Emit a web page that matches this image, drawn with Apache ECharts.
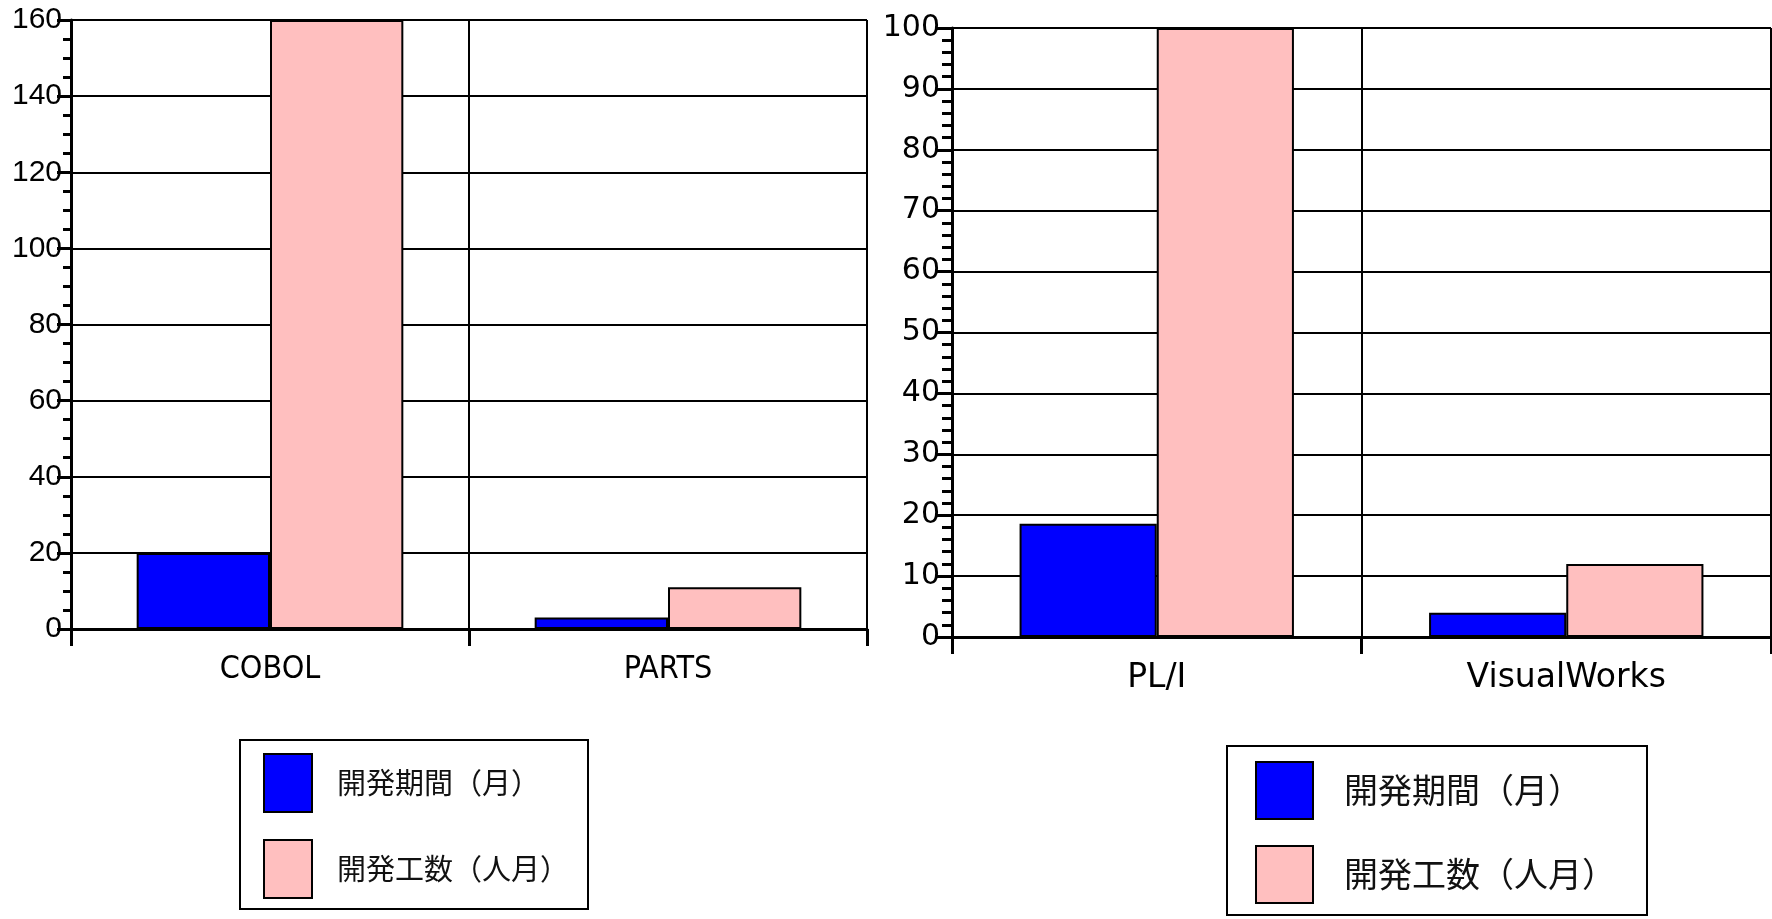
<!DOCTYPE html>
<html>
<head>
<meta charset="utf-8">
<script src="https://cdn.jsdelivr.net/npm/echarts@6/dist/echarts.min.js"></script>
<style>
html,body{margin:0;padding:0;background:#fff;}
#c{width:1772px;height:919px;}
</style>
</head>
<body>
<div id="c"></div>
<script>
// Left chart data
const leftCategories = ['COBOL', 'PARTS'];
const leftPeriod = [20, 3];      // 開発期間（月）
const leftEffort = [160, 11];    // 開発工数（人月）
const leftTicks = { min: 0, max: 160, interval: 20 };

// Right chart data
const rightCategories = ['PL/I', 'VisualWorks'];
const rightPeriod = [18.6, 4];
const rightEffort = [100, 12];
const rightTicks = { min: 0, max: 100, interval: 10 };

const seriesNames = ['開発期間（月）', '開発工数（人月）'];
const colors = ['#0000FF', '#FFBFBF'];

const chart = echarts.init(document.getElementById('c'), null, { renderer: 'canvas' });

const black = '#000';
const splitStyle = { show: true, lineStyle: { color: black, width: 2 } };

function xAxis(gridIndex, cats, fontFamily, fontSize, margin) {
  return {
    type: 'category', gridIndex, data: cats,
    axisLine: { show: true, lineStyle: { color: black, width: 3 } },
    axisTick: { show: true, length: 17, interval: 0, lineStyle: { color: black, width: 3 } },
    splitLine: { show: true, interval: 0, lineStyle: { color: black, width: 2 } },
    axisLabel: { color: black, fontFamily, fontSize, margin, interval: 0 }
  };
}
function yAxis(gridIndex, t, fontFamily, fontSize, margin, tickLen, minorLen, minorSplit) {
  return {
    type: 'value', gridIndex, min: t.min, max: t.max, interval: t.interval,
    axisLine: { show: true, lineStyle: { color: black, width: 3 } },
    axisTick: { show: true, length: tickLen, lineStyle: { color: black, width: 3 } },
    minorTick: { show: true, splitNumber: minorSplit, length: minorLen, lineStyle: { color: black, width: 3 } },
    splitLine: splitStyle,
    axisLabel: { color: black, fontFamily, fontSize, margin }
  };
}
function bar(name, data, color, idx) {
  return {
    name, type: 'bar', xAxisIndex: idx, yAxisIndex: idx, data,
    barGap: 0, barCategoryGap: '33%',
    itemStyle: { color, borderColor: black, borderWidth: 2 },
    silent: true
  };
}

const option = {
  animation: false,
  backgroundColor: '#fff',
  grid: [
    { left: 71, right: 1772 - 867, top: 20, bottom: 919 - 629, containLabel: false },
    { left: 952, right: 1, top: 28, bottom: 919 - 637, containLabel: false }
  ],
  xAxis: [
    xAxis(0, leftCategories, '"Liberation Sans Narrow", "DejaVu Sans Condensed", "Liberation Sans", sans-serif', 32, 25),
    xAxis(1, rightCategories, '"DejaVu Sans", sans-serif', 33, 25)
  ],
  yAxis: [
    yAxis(0, leftTicks, '"Liberation Sans", Arial, sans-serif', 30, 9, 14, 8, 4),
    yAxis(1, rightTicks, '"DejaVu Sans", sans-serif', 30, 12, 15, 10, 5)
  ],
  legend: [
    {
      left: 240, top: 740, height: 400, orient: 'vertical',
      data: seriesNames, selectedMode: false, icon: 'rect',
      itemWidth: 48, itemHeight: 58, itemGap: 26,
      padding: [13, 19, 10, 23],
      borderColor: black, borderWidth: 2, backgroundColor: '#fff',
      itemStyle: { borderColor: black, borderWidth: 2 },
      textStyle: { fontFamily: '"Noto Sans CJK JP", sans-serif', fontSize: 29, color: '#111', padding: [0, 0, 0, 20] }
    },
    {
      left: 1227, top: 746, height: 400, orient: 'vertical',
      data: seriesNames, selectedMode: false, icon: 'rect',
      itemWidth: 57, itemHeight: 57, itemGap: 25,
      padding: [15, 31, 11, 28],
      borderColor: black, borderWidth: 2, backgroundColor: '#fff',
      itemStyle: { borderColor: black, borderWidth: 2 },
      textStyle: { fontFamily: '"Noto Sans CJK JP", sans-serif', fontSize: 34, color: '#111', padding: [0, 0, 0, 26] }
    }
  ],
  series: [
    bar(seriesNames[0], leftPeriod, colors[0], 0),
    bar(seriesNames[1], leftEffort, colors[1], 0),
    bar(seriesNames[0], rightPeriod, colors[0], 1),
    bar(seriesNames[1], rightEffort, colors[1], 1)
  ]
};
chart.setOption(option);
</script>
</body>
</html>
